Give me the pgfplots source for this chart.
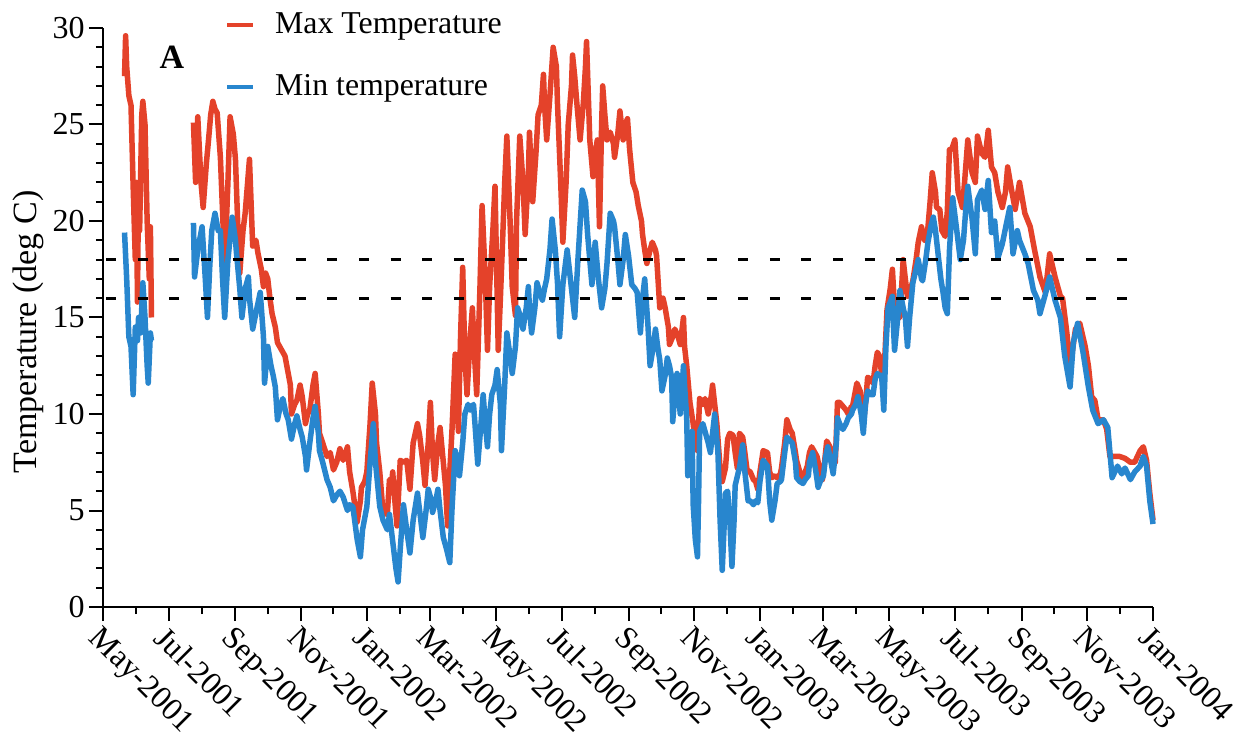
\documentclass[border=0pt]{standalone}
\usepackage{fontspec}
\setmainfont{Liberation Serif}
\usepackage{pgfplots}
\usepackage{pgfplotstable}
\pgfplotsset{compat=1.18}

\definecolor{tmaxred}{RGB}{228,66,42}
\definecolor{tminblue}{RGB}{40,134,206}

% Daily maximum temperature (deg C); day 0 = 1 May 2001, gap in June/July 2001
\pgfplotstableread{
day tmax
20 27.5
21 29.6
22 28.0
24 26.5
26 26.0
28 21.8
30 18.0
31 22.0
32 15.8
33 22.0
34 19.5
36 25.5
37 26.2
39 25.0
41 20.0
43 17.0
44 19.7
45 15.0
60 nan
84 25.1
86 22.0
88 25.4
91 22.0
93 20.7
96 23.0
98 24.2
100 25.5
102 26.2
104 25.8
106 25.6
109 23.3
111 20.5
113 17.6
116 22.0
118 25.4
121 24.5
123 23.2
125 20.0
127 17.3
130 19.5
132 20.4
135 22.5
136 23.2
139 18.7
142 19.0
144 18.3
147 17.5
149 16.6
151 17.3
153 17.0
155 16.0
157 15.2
160 14.5
162 13.7
164 13.5
166 13.3
169 13.0
171 12.4
174 11.5
175 10.0
178 10.5
180 10.7
183 11.5
185 10.9
188 9.5
190 10.0
192 10.2
195 11.5
197 12.1
200 10.0
201 9.0
204 8.5
208 7.8
211 8.0
214 7.1
217 7.5
220 8.2
223 7.6
227 8.3
229 7.0
232 6.0
236 4.4
239 5.5
240 6.2
243 6.5
245 7.0
248 9.5
250 11.6
253 10.0
254 8.5
257 7.0
260 4.9
264 4.8
266 6.6
268 6.4
269 7.0
271 5.5
273 4.2
276 7.6
279 7.5
282 7.6
285 6.1
288 8.5
292 9.5
294 8.9
297 7.5
299 6.3
302 8.5
304 10.6
306 8.0
308 6.6
311 8.5
313 9.3
316 7.5
318 6.3
320 4.2
322 7.0
324 9.1
327 13.1
330 9.1
332 14.0
334 17.6
336 13.0
338 11.0
341 14.0
343 15.5
345 13.0
347 11.0
350 16.5
352 20.8
355 17.0
357 13.3
359 16.6
362 19.5
364 21.8
367 13.3
369 16.0
371 18.9
373 22.0
375 24.4
378 20.0
380 16.6
383 15.1
384 20.0
387 24.4
390 22.0
392 19.3
395 22.5
396 24.6
399 21.0
402 23.5
404 25.5
407 26.0
409 27.6
410 26.0
412 24.2
415 26.5
418 29.0
421 28.0
422 26.1
425 22.0
427 18.9
430 22.0
432 25.0
435 27.0
436 28.6
438 27.5
440 26.1
443 24.2
446 26.1
448 28.0
449 29.3
452 24.2
455 22.3
457 23.5
459 24.2
461 19.7
463 25.0
464 27.0
466 25.5
468 24.2
471 24.6
474 24.0
475 23.3
478 24.5
480 25.7
483 24.2
485 25.0
487 25.3
489 23.7
492 22.0
495 21.5
497 20.8
500 20.0
501 19.3
503 18.5
505 17.8
508 18.5
510 18.9
513 18.5
514 18.2
517 15.5
520 16.0
522 15.5
525 14.5
526 13.6
529 14.0
531 14.4
534 14.0
536 13.6
539 15.0
540 13.5
542 12.5
545 10.6
548 9.5
550 8.5
552 8.1
554 10.8
557 10.5
559 10.8
562 10.0
565 11.0
566 11.5
568 10.5
570 9.5
573 7.2
575 6.5
578 7.2
580 8.7
582 9.0
585 8.9
587 8.0
589 7.2
591 9.0
594 8.8
596 8.0
598 7.1
601 7.0
604 6.6
606 6.5
608 6.1
610 7.0
613 8.1
617 8.0
619 7.0
621 6.7
624 6.8
626 6.7
629 6.9
630 7.2
633 8.5
635 9.7
638 9.2
640 9.0
643 8.0
644 7.6
647 7.0
649 6.7
652 7.0
654 7.3
656 8.0
658 8.3
661 8.0
663 7.8
666 7.0
668 6.6
670 7.5
672 8.6
675 8.3
677 8.0
680 7.5
682 10.6
684 10.6
687 10.4
690 10.2
692 10.0
695 10.4
696 10.4
698 11.0
700 11.6
703 11.2
706 9.5
708 10.5
710 11.9
713 11.8
715 11.6
717 12.5
719 13.2
721 13.0
724 11.6
726 13.0
728 15.4
731 16.5
733 17.5
734 16.5
735 15.5
738 15.2
740 15.0
743 18.0
745 17.0
747 16.1
750 16.5
752 16.9
755 18.0
757 18.9
760 19.7
763 19.0
765 19.0
768 21.0
770 22.5
773 21.5
774 20.7
777 20.6
779 19.5
782 19.2
784 20.5
786 23.7
788 23.7
791 24.2
794 21.5
798 20.7
800 22.0
803 24.2
807 22.5
810 22.0
812 24.4
816 23.5
819 23.3
822 24.7
825 22.8
828 22.5
831 21.5
835 20.7
838 21.5
840 22.8
844 21.5
847 20.6
851 22.0
856 20.4
861 19.7
865 18.5
870 17.1
875 16.3
879 18.3
884 17.1
889 16.1
891 16.0
895 14.2
898 12.4
903 14.4
907 14.7
912 13.5
915 12.5
918 10.9
921 10.7
924 9.7
929 9.7
932 9.2
935 7.8
940 7.8
944 7.8
949 7.7
954 7.5
958 7.5
963 8.1
966 8.3
969 7.6
972 5.9
975 4.5
}\maxtemp

% Daily minimum temperature (deg C)
\pgfplotstableread{
day tmin
20 19.4
22 17.0
24 14.0
26 13.5
28 11.0
30 14.5
32 13.8
33 15.0
35 14.2
37 16.8
39 15.0
41 12.5
42 11.6
44 14.2
45 13.8
60 nan
84 19.9
85 17.1
88 18.5
92 19.7
95 17.0
97 15.0
99 17.5
101 19.5
104 20.4
107 19.5
109 19.5
111 17.0
113 15.0
116 18.0
120 20.2
123 19.0
124 18.3
127 16.5
129 15.0
132 16.5
135 17.1
136 16.0
139 14.4
143 15.5
146 16.3
149 14.0
150 11.6
153 13.5
156 12.5
158 12.0
160 11.4
162 9.7
165 10.5
167 10.8
170 10.0
172 9.7
175 8.7
178 9.5
180 9.9
183 9.2
185 8.8
188 7.8
189 7.1
192 8.5
195 9.8
197 10.4
200 9.0
201 8.1
204 7.5
208 6.6
211 6.2
214 5.5
217 5.8
220 6.0
223 5.7
227 5.0
229 5.3
232 5.2
236 3.5
239 2.6
241 4.0
245 5.2
248 7.5
251 9.5
253 7.5
257 5.2
260 4.5
264 4.0
266 4.8
269 3.4
272 2.0
274 1.3
276 3.0
279 5.3
282 4.0
285 2.8
288 4.5
292 5.9
294 5.0
297 3.6
300 5.0
302 6.1
305 5.5
306 4.9
309 5.5
311 6.1
313 5.0
316 3.6
319 3.0
322 2.3
324 5.0
327 8.1
330 7.5
331 6.8
334 8.5
336 10.0
339 10.5
341 10.2
344 10.5
345 9.8
348 7.4
351 9.5
353 11.0
355 9.5
357 8.3
359 10.0
361 11.0
364 11.5
366 12.3
369 10.5
370 8.1
373 11.5
375 14.2
378 13.0
380 12.1
383 13.5
385 15.5
388 15.0
390 14.4
393 15.5
395 16.6
396 15.5
398 14.2
401 15.5
403 16.8
406 16.2
408 15.9
410 16.5
412 17.0
415 18.5
417 20.1
420 18.5
422 16.8
424 14.0
427 16.7
431 18.5
434 17.0
436 16.0
438 15.0
441 18.0
445 21.6
448 21.0
450 19.3
454 16.7
457 18.9
460 17.0
463 15.5
466 16.5
468 17.8
471 20.4
474 20.0
475 19.7
478 18.0
480 16.7
483 18.0
485 19.3
488 18.2
491 16.7
494 16.5
496 16.3
499 14.2
501 16.0
503 17.0
506 14.6
508 12.5
511 13.5
513 14.4
515 13.5
517 12.8
519 11.2
522 12.0
524 12.9
526 12.5
528 11.9
529 9.6
531 11.0
533 12.1
536 10.0
539 12.5
540 11.5
542 9.8
543 6.8
545 8.0
547 9.1
548 5.3
550 3.5
552 2.6
553 5.5
554 9.1
557 9.5
559 9.1
562 8.5
564 8.0
566 9.0
568 10.0
571 8.0
573 4.5
575 1.9
577 4.5
578 5.9
580 6.0
582 4.5
584 2.1
586 4.5
587 6.3
590 7.0
591 7.2
594 8.4
596 7.0
599 5.5
601 5.5
604 5.3
606 5.5
608 5.4
610 6.5
613 7.6
617 7.3
619 5.5
621 4.5
624 5.5
626 6.4
629 6.5
630 6.6
633 8.0
635 8.8
638 8.6
640 8.5
643 7.5
644 6.7
647 6.5
650 6.4
652 6.6
655 6.8
656 7.5
659 8.0
662 7.0
664 6.2
666 6.5
669 6.8
671 7.8
673 8.3
676 7.5
678 6.9
681 8.5
682 9.8
684 9.5
687 9.2
690 9.5
692 9.8
695 10.0
696 10.2
699 10.5
701 10.9
704 10.0
706 9.0
708 10.5
710 11.2
713 11.0
715 11.0
717 11.8
719 12.1
721 12.0
723 12.0
725 10.2
727 13.5
729 15.5
731 15.8
733 16.1
734 14.5
735 13.3
738 15.0
740 16.4
743 15.5
745 15.0
747 13.5
749 15.0
752 16.8
755 17.5
757 18.0
760 17.0
761 16.9
764 18.0
766 18.9
769 19.8
771 20.2
773 19.5
775 18.5
778 17.0
780 16.3
782 15.5
784 15.2
786 18.5
789 21.2
793 19.4
796 18.0
799 19.0
801 20.5
803 21.8
807 20.1
810 18.3
812 21.1
816 21.6
819 20.6
822 22.1
825 19.4
828 20.0
831 18.1
835 18.8
839 19.9
842 20.7
845 18.3
849 19.5
851 19.0
856 18.3
859 17.8
864 16.4
868 15.9
870 15.2
875 16.2
879 17.1
884 15.9
889 15.0
893 13.0
898 11.4
901 13.7
905 14.7
910 13.2
915 11.4
919 10.2
924 9.5
929 9.7
933 9.3
937 6.7
942 7.3
946 6.9
949 7.2
954 6.6
958 7.0
963 7.3
966 7.8
969 7.3
972 5.5
975 4.3
}\mintemp

\begin{document}
\begin{tikzpicture}
\begin{axis}[
  scale only axis,
  width=525pt, height=289.5pt,
  xmin=0, xmax=975, ymin=0, ymax=30,
  axis x line=bottom, axis y line=left,
  axis line style={-, line width=1pt, black},
  every tick/.style={black, line width=1pt},
  tick align=outside,
  major tick length=7pt, minor tick length=3.5pt,
  xtick={0,61,123,184,245,304,365,426,488,549,610,669,730,791,853,914,975},
  xticklabels={May-2001,Jul-2001,Sep-2001,Nov-2001,Jan-2002,Mar-2002,May-2002,Jul-2002,Sep-2002,Nov-2002,Jan-2003,Mar-2003,May-2003,Jul-2003,Sep-2003,Nov-2003,Jan-2004},
  minor xtick={31,92,153,214,276,334,396,457,518,579,641,699,761,822,883,944},
  ytick={0,5,...,30},
  minor y tick num=4,
  /pgf/number format/assume math mode=true,
  tick label style={font=\fontsize{16}{19}\selectfont},
  xticklabel style={rotate=-45, anchor=north west, inner sep=1pt},
  yticklabel style={inner sep=2pt},
  ylabel={Temperature (deg C)},
  ylabel style={font=\fontsize{17}{20}\selectfont, at={(axis description cs:-0.0714,0.475)}, anchor=center, rotate=0},
  unbounded coords=jump,
  clip=false,
  legend cell align=left,
  legend image code/.code={\draw[#1, line width=2pt] (0pt,0pt) -- (13pt,0pt);},
  legend style={draw=none, fill=none, at={(axis description cs:0.116,1.0335)}, anchor=north west,
    font=\fontsize{15.9}{18}\selectfont, row sep=15pt, inner sep=0pt,
    nodes={inner sep=2pt},
    /tikz/every odd column/.append style={column sep=8pt}},
]
\addplot[tmaxred, line width=2.75pt, line join=round] table[x=day, y=tmax] {\maxtemp};
\addlegendentry{Max Temperature}
\addplot[tminblue, line width=2.75pt, line join=round] table[x=day, y=tmin] {\mintemp};
\addlegendentry{Min temperature}
\addplot[black, line width=1.5pt, dash pattern=on 5pt off 10.8pt, forget plot] coordinates {(3,18) (966,18)};
\addplot[black, line width=1.5pt, dash pattern=on 5pt off 10.8pt, forget plot] coordinates {(3,16) (966,16)};
\node[font=\bfseries\fontsize{17}{19}\selectfont] at (rel axis cs:0.0657,0.95) {A};
\coordinate (O) at (rel axis cs:0,0);
\end{axis}
\pgfresetboundingbox
\path[use as bounding box] ([shift={(-51.5pt,-65.5pt)}]O) rectangle ([shift={(569pt,303.5pt)}]O);
\end{tikzpicture}
\end{document}
